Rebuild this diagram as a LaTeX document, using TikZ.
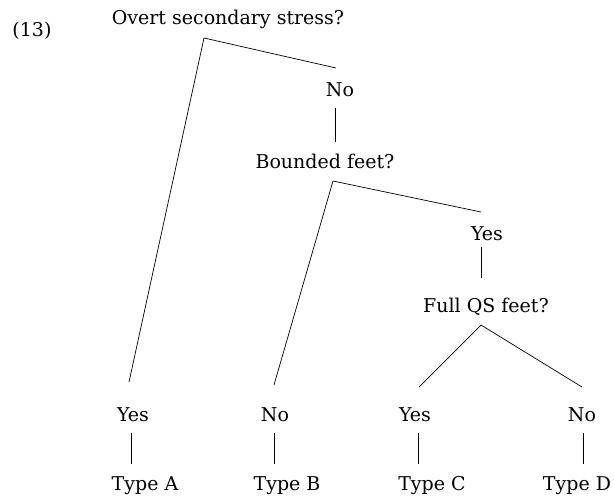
\documentclass[tikz,border=0pt]{standalone}
\usepackage{fontspec}
\setmainfont{DejaVu Serif}
\begin{document}
\begin{tikzpicture}[x=1pt,y=-1pt,
  lbl/.style={anchor=base,inner sep=0pt,font=\fontsize{19}{22}\selectfont},
  edge/.style={line width=0.7pt}]
\useasboundingbox (0,0) rectangle (614,499);
\node[lbl] (n13) at (32,36) {(13)};
\node[lbl] (q1) at (228,24) {Overt secondary stress?};
\node[lbl] (no1) at (340,96) {No};
\node[lbl] (q2) at (325,168) {Bounded feet?};
\node[lbl] (yes2) at (487,240) {Yes};
\node[lbl] (q3) at (486,312) {Full QS feet?};
\node[lbl] (yA) at (133,421) {Yes};
\node[lbl] (nB) at (275,421) {No};
\node[lbl] (yC) at (415,421) {Yes};
\node[lbl] (nD) at (582,421) {No};
\node[lbl] (tA) at (145,490) {Type A};
\node[lbl] (tB) at (287,490) {Type B};
\node[lbl] (tC) at (432,490) {Type C};
\node[lbl] (tD) at (577,490) {Type D};
% coordinates
\coordinate (a1) at (204,38);
\coordinate (a1r) at (336,68);
\coordinate (a1l) at (129,382);
\coordinate (v1t) at (335,108);
\coordinate (v1b) at (335,142);
\coordinate (a2) at (333,181);
\coordinate (a2r) at (481,212);
\coordinate (a2l) at (274,385);
\coordinate (v2t) at (481,247);
\coordinate (v2b) at (481,278);
\coordinate (a3) at (481,325);
\coordinate (a3l) at (419,387);
\coordinate (a3r) at (582,387);
\coordinate (vAt) at (131,433); \coordinate (vAb) at (131,464);
\coordinate (vBt) at (274,433); \coordinate (vBb) at (274,464);
\coordinate (vCt) at (418,433); \coordinate (vCb) at (418,464);
\coordinate (vDt) at (583,433); \coordinate (vDb) at (583,464);
\draw[edge] (a1l) -- (a1) -- (a1r);
\draw[edge] (v1t) -- (v1b);
\draw[edge] (a2l) -- (a2) -- (a2r);
\draw[edge] (v2t) -- (v2b);
\draw[edge] (a3l) -- (a3) -- (a3r);
\draw[edge] (vAt) -- (vAb);
\draw[edge] (vBt) -- (vBb);
\draw[edge] (vCt) -- (vCb);
\draw[edge] (vDt) -- (vDb);
\end{tikzpicture}
\end{document}
